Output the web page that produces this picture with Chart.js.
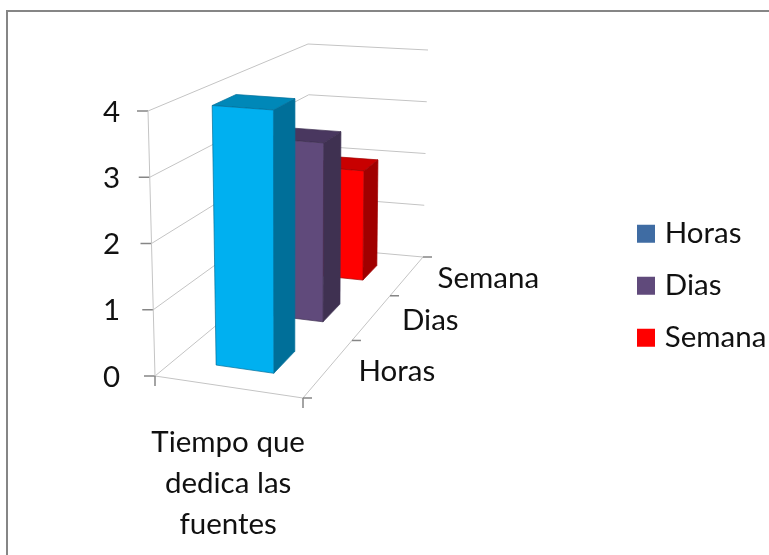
<!DOCTYPE html>
<html>
<head>
<meta charset="utf-8">
<title>Tiempo que dedica las fuentes</title>
<script src="https://cdn.jsdelivr.net/npm/chart.js@4"></script>
<style>
  body { margin: 0; background: #fff; }
  canvas { display: block; }
</style>
</head>
<body>
<canvas id="canv" width="769" height="555"></canvas>
<script>
var categories = [["Tiempo que", "dedica las", "fuentes"]];
var seriesNames = ["Horas", "Dias", "Semana"];
var horasValues = [4];
var diasValues = [3];
var semanaValues = [2];
var valueTicks = [0, 1, 2, 3, 4];

var frontColors = ["#00b0f0", "#604a7b", "#ff0000"];
var sideColors = ["#006f99", "#3f3151", "#a00000"];
var topColors = ["#0088b8", "#49375f", "#c80000"];
var legendColors = ["#3f6ca3", "#604a7b", "#ff0000"];

var FONT = "Lato";
var FONT_SIZE = 29.5;

// 3d box of the plot, in pixels: [u][w] at bottom and at top
var floorBox = [[[155, 376], [311, 247]], [[303, 398], [423, 257]]];
var topBox = [[[148, 111], [308, 44]], [[305, 123], [428, 50]]];

// where the bars stand in the box
var barU = [0.285, 0.6875];
var barDepth = [[0.13, 0.29], [0.505, 0.634], [0.809, 0.915]];
var depthTicks = [0, 0.408, 0.725, 1];

function mix(a, b, t) {
  return [a[0] + (b[0] - a[0]) * t, a[1] + (b[1] - a[1]) * t];
}

function proj(chart, u, w, v) {
  var y = chart.scales.y;
  var t = (y.bottom - y.getPixelForValue(v)) / y.height;
  var low = mix(mix(floorBox[0][0], floorBox[0][1], w), mix(floorBox[1][0], floorBox[1][1], w), u);
  var high = mix(mix(topBox[0][0], topBox[0][1], w), mix(topBox[1][0], topBox[1][1], w), u);
  return mix(low, high, t);
}

function line(ctx, pts, color, width) {
  ctx.beginPath();
  ctx.moveTo(pts[0][0], pts[0][1]);
  for (var i = 1; i < pts.length; i++) ctx.lineTo(pts[i][0], pts[i][1]);
  ctx.strokeStyle = color;
  ctx.lineWidth = width;
  ctx.stroke();
}

function face(ctx, pts, color, edge) {
  ctx.beginPath();
  ctx.moveTo(pts[0][0], pts[0][1]);
  for (var i = 1; i < pts.length; i++) ctx.lineTo(pts[i][0], pts[i][1]);
  ctx.closePath();
  ctx.fillStyle = color;
  ctx.fill();
  ctx.strokeStyle = edge;
  ctx.lineWidth = 0.7;
  ctx.stroke();
}

function barValue(chart, i) {
  return chart.data.datasets[i].data[0];
}

var box3d = {
  id: "box3d",
  beforeDraw: function(chart) {
    // frame of the picture
    var ctx = chart.ctx;
    ctx.save();
    line(ctx, [[7, 555], [7, 11], [769, 11]], "#868686", 2);
    ctx.restore();
  },
  afterDatasetsUpdate: function(chart) {
    // native bar sits inside the slanted front face
    chart.data.datasets.forEach(function(ds, i) {
      var v = barValue(chart, i);
      var w = barDepth[i][0];
      var a = proj(chart, barU[0], w, 0), b = proj(chart, barU[1], w, 0);
      var c = proj(chart, barU[0], w, v), d = proj(chart, barU[1], w, v);
      var el = chart.getDatasetMeta(i).data[0];
      var left = Math.max(a[0], c[0]), right = Math.min(b[0], d[0]);
      el.x = (left + right) / 2;
      el.width = right - left;
      el.y = Math.max(c[1], d[1]);
      el.base = Math.min(a[1], b[1]);
    });
  },
  afterLayout: function(chart) {
    // legend floats right of the plot
    var lg = chart.legend;
    var pad = chart.options.plugins.legend.labels.padding;
    lg.left = 642 - pad;
    lg.right = chart.width;
    lg.top = 219 - pad;
    lg.bottom = chart.height;
  },
  beforeDatasetsDraw: function(chart) {
    var ctx = chart.ctx;
    var grid = "#c4c4c4", tick = "#868686";
    ctx.save();
    valueTicks.forEach(function(v) {
      var a = proj(chart, 0, 0, v);
      line(ctx, [a, proj(chart, 0, 1, v), proj(chart, 1, 1, v)], grid, 1);
      line(ctx, [[a[0] - 11, a[1]], a], tick, 1.5);
    });
    var top = valueTicks[valueTicks.length - 1];
    line(ctx, [proj(chart, 0, 0, 0), proj(chart, 0, 0, top)], grid, 1);
    var p0 = proj(chart, 0, 0, 0), p1 = proj(chart, 1, 0, 0);
    line(ctx, [p0, p1, proj(chart, 1, 1, 0)], grid, 1);
    line(ctx, [p0, [p0[0], p0[1] + 10]], tick, 1.5);
    line(ctx, [p1, [p1[0], p1[1] + 10]], tick, 1.5);
    depthTicks.forEach(function(w) {
      var p = proj(chart, 1, w, 0);
      line(ctx, [p, [p[0] + 9, p[1]]], tick, 1.5);
    });
    // depth axis labels
    ctx.font = FONT_SIZE + "px " + FONT;
    ctx.fillStyle = "#111";
    ctx.textAlign = "left";
    ctx.textBaseline = "middle";
    seriesNames.forEach(function(name, i) {
      var p = proj(chart, 1, (depthTicks[i] + depthTicks[i + 1]) / 2, 0);
      ctx.fillText(name, p[0] + 31, p[1] + 2);
    });
    ctx.restore();
  },
  beforeDatasetDraw: function(chart, args) {
    var i = args.index, v = barValue(chart, i);
    var w0 = barDepth[i][0], w1 = barDepth[i][1];
    var u0 = barU[0], u1 = barU[1];
    var ctx = chart.ctx;
    ctx.save();
    face(ctx, [proj(chart, u1, w0, 0), proj(chart, u1, w1, 0), proj(chart, u1, w1, v), proj(chart, u1, w0, v)], sideColors[i], sideColors[i]);
    face(ctx, [proj(chart, u0, w0, v), proj(chart, u1, w0, v), proj(chart, u1, w1, v), proj(chart, u0, w1, v)], topColors[i], sideColors[i]);
    ctx.restore();
  },
  afterDatasetDraw: function(chart, args) {
    var i = args.index, v = barValue(chart, i);
    var w0 = barDepth[i][0];
    var ctx = chart.ctx;
    ctx.save();
    face(ctx, [proj(chart, barU[0], w0, 0), proj(chart, barU[1], w0, 0), proj(chart, barU[1], w0, v), proj(chart, barU[0], w0, v)], frontColors[i], sideColors[i]);
    ctx.restore();
  }
};

var chart = new Chart(document.getElementById("canv"), {
  type: "bar",
  plugins: [box3d],
  data: {
    labels: categories,
    datasets: [
      { label: seriesNames[0], data: horasValues, backgroundColor: frontColors[0], clip: false, grouped: false },
      { label: seriesNames[1], data: diasValues, backgroundColor: frontColors[1], clip: false, grouped: false },
      { label: seriesNames[2], data: semanaValues, backgroundColor: frontColors[2], clip: false, grouped: false }
    ]
  },
  options: {
    responsive: false,
    animation: false,
    events: [],
    layout: { padding: { left: 0, right: 358, top: 111, bottom: 0 } },
    plugins: {
      tooltip: { enabled: false },
      legend: {
        position: "right",
        align: "start",
        labels: {
          boxWidth: 8,
          boxHeight: 8,
          padding: 22.5,
          color: "#111",
          font: { family: FONT, size: FONT_SIZE },
          generateLabels: function() {
            return seriesNames.map(function(name, i) {
              return { text: name, fillStyle: legendColors[i], strokeStyle: legendColors[i], lineWidth: 10, fontColor: "#111", datasetIndex: i };
            });
          }
        }
      }
    },
    scales: {
      x: {
        grid: { display: false },
        border: { display: false },
        afterFit: function(s) { s.height = 179; },
        ticks: {
          color: "#111",
          padding: 38,
          maxRotation: 0,
          autoSkip: false,
          font: { family: FONT, size: FONT_SIZE, lineHeight: 1.39 }
        }
      },
      y: {
        min: 0,
        max: 4,
        grid: { display: false },
        border: { display: false },
        afterFit: function(s) { s.width = 148; },
        ticks: {
          stepSize: 1,
          color: "#111",
          padding: 20,
          labelOffset: 1,
          font: { family: FONT, size: FONT_SIZE }
        }
      }
    }
  }
});
</script>
</body>
</html>
